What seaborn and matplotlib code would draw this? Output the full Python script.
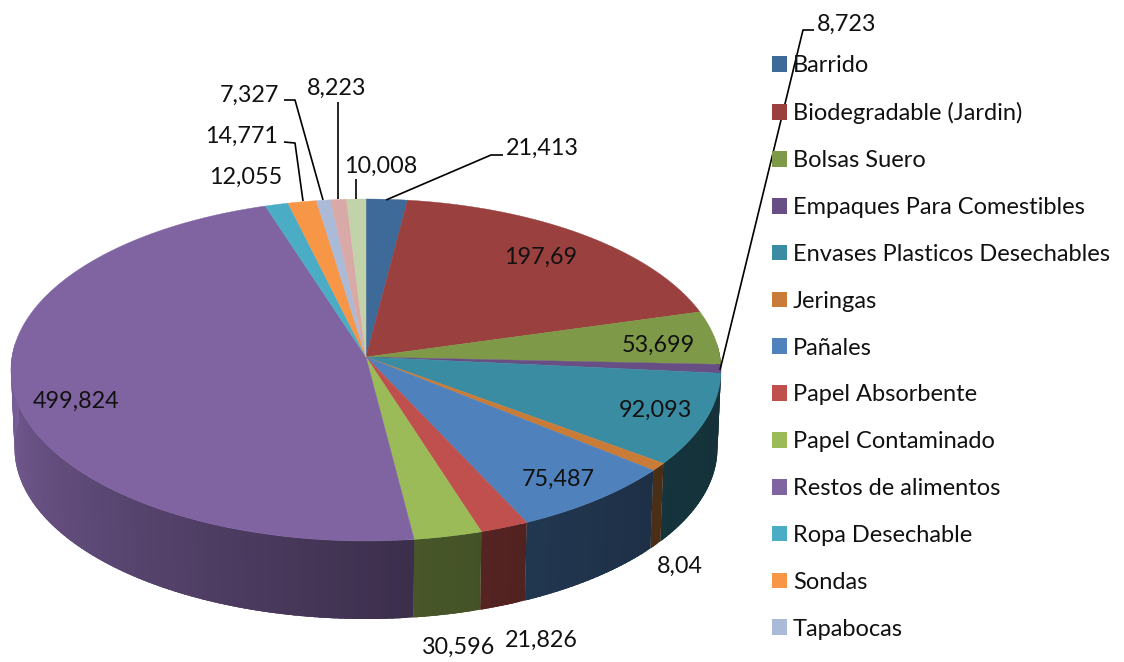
import numpy as np
import matplotlib
matplotlib.use("Agg")
import matplotlib.pyplot as plt
from matplotlib.patches import Patch
import seaborn as sns

categories = ["Barrido", "Biodegradable (Jardin)", "Bolsas Suero", "Empaques Para Comestibles",
              "Envases Plasticos Desechables", "Jeringas", "Pañales", "Papel Absorbente",
              "Papel Contaminado", "Restos de alimentos", "Ropa Desechable", "Sondas", "Tapabocas"]
values = [21.413, 197.69, 53.699, 8.723, 92.093, 8.04, 75.487, 21.826, 30.596,
          499.824, 12.055, 14.771, 7.327, 8.223, 10.008]
value_labels = ["21,413", "197,69", "53,699", "8,723", "92,093", "8,04", "75,487", "21,826",
                "30,596", "499,824", "12,055", "14,771", "7,327", "8,223", "10,008"]
label_xy = [(542, 148.5), (541, 257.5), (658, 345.5), (847, 24.5), (655, 410.5), (680, 566), (558, 479.5),
            (541, 640), (459, 647), (76, 401.5), (246, 177), (242, 136), (249, 95), (337, 88), (381, 166)]
leaders = [[(386, 200), (491, 155), (503, 155)],
           [(303, 201), (295, 143), (284, 142)],
           [(323, 200), (295, 100), (284, 100)],
           [(338, 199), (338, 102)],
           [(356, 199), (356, 179)],
           [(720, 370), (803, 30), (814, 30)]]
hex_colors = ["#3E6A9A", "#9A403E", "#7E9A48", "#674F85", "#3A8CA3", "#C97C38", "#4F81BD",
              "#C0504D", "#9BBB59", "#8064A2", "#4BACC6", "#F79646", "#AABAD7", "#D9A9A8", "#C3D3A9"]

CX, CY, A, B, K = 366.0, 357.0, 354.0, 170.0, 0.076
DEPTH, SHRINK = 78.0, 0.99
FONT = 16.8
LEGEND_FONT = 17.0


def project(theta_deg, r=1.0):
    t = np.radians(theta_deg)
    u, v = r * np.sin(t), r * np.cos(t)
    d = 1 + K * v
    return CX + A * u / d, CY - B * v / d


def shade(theta_deg):
    return np.interp(theta_deg, [85, 130, 172, 275], [0.35, 0.37, 0.46, 0.95])


sns.set_theme(style="white")
plt.rcParams["font.family"] = ["Lato", "DejaVu Sans"]
palette = sns.color_palette(hex_colors)

fig = plt.figure(figsize=(11.24, 6.62), dpi=100)
ax = fig.add_axes([0, 0, 1, 1])
ax.set_xlim(0, 1124)
ax.set_ylim(662, 0)
ax.axis("off")

total = sum(values)
edges = np.concatenate([[0], np.cumsum(values)]) / total * 360

# side wall of the near half: each band overlaps the next one, so no seams show
for i, col in enumerate(palette):
    lo, hi = max(edges[i], 85), min(edges[i + 1], 275)
    if hi <= lo:
        continue
    steps = np.linspace(lo, hi, max(2, int((hi - lo) / 1.0) + 2))
    for a0, a1 in zip(steps[:-1], steps[1:]):
        th = np.linspace(a0, hi if a1 + 1.5 > hi else a1 + 1.5, 4)
        x, y = project(th)
        xs = np.r_[x, CX + (x[::-1] - CX) * SHRINK]
        ys = np.r_[y, y[::-1] + DEPTH]
        c = np.array(col) * shade((a0 + a1) / 2)
        ax.fill(xs, ys, color=c, lw=0, zorder=2)

# top face
for i, col in enumerate(palette):
    th = np.linspace(edges[i], edges[i + 1], max(3, int(edges[i + 1] - edges[i]) * 2 + 2))
    x, y = project(th)
    ax.fill(np.r_[CX, x], np.r_[CY, y], color=col, lw=0.3, zorder=3)

for pts in leaders:
    xs, ys = zip(*pts)
    ax.plot(xs, ys, color="black", lw=1.2, zorder=4, solid_capstyle="butt")

for txt, (x, y) in zip(value_labels, label_xy):
    ax.text(x, y, txt, ha="center", va="center", fontsize=FONT, color="#111111", zorder=5)

handles = [Patch(facecolor=palette[i], edgecolor="none", label=c) for i, c in enumerate(categories)]
ax.legend(handles=handles, loc="upper left", bbox_to_anchor=(772 / 1124, 1 - 55.5 / 662),
          frameon=False, fontsize=LEGEND_FONT, handlelength=0.64, handleheight=0.64,
          handletextpad=0.24, labelspacing=1.094, borderpad=0, borderaxespad=0,
          labelcolor="#111111")

fig.savefig("out.png", dpi=100)
